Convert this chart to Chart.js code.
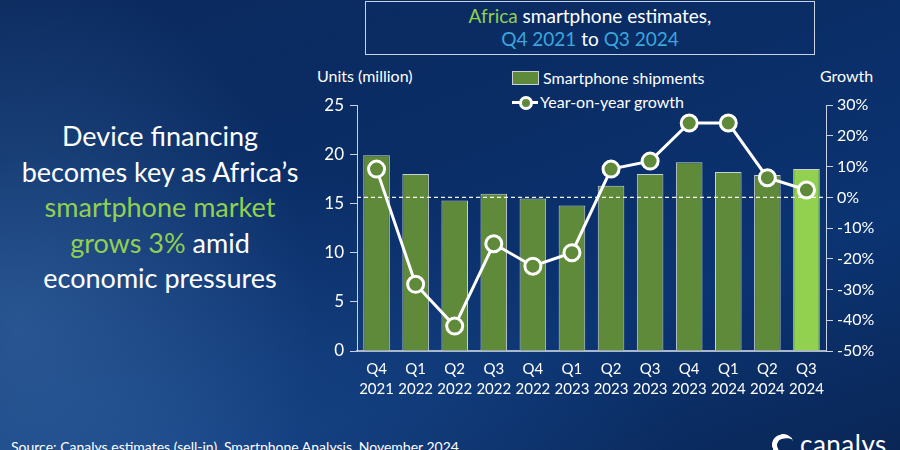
<!DOCTYPE html>
<html>
<head>
<meta charset="utf-8">
<script src="https://cdn.jsdelivr.net/npm/chart.js@4"></script>
<style>
  html, body { margin: 0; padding: 0; }
  body {
    width: 900px; height: 450px; overflow: hidden; position: relative;
    font-family: Lato, "Open Sans", sans-serif; color: #fff;
    background:
      radial-gradient(ellipse 420px 520px at 20px 330px, rgba(60,110,170,0.55), rgba(60,110,170,0) 70%),
      radial-gradient(ellipse 700px 400px at 150px 450px, rgba(40,90,160,0.45), rgba(40,90,160,0) 75%),
      linear-gradient(160deg, #0b2a5e 0%, #0a2d66 40%, #0b3472 70%, #0a2656 100%);
  }
  .title-box {
    position: absolute; left: 365px; top: 1px; width: 450px; height: 54px;
    border: 1.5px solid #c9d3e3; box-sizing: border-box;
    text-align: center; font-size: 19px; line-height: 23px; padding-top: 2px;
  }
  .g { color: #92d050; }
  .b { color: #3ea6dd; }
  .headline {
    position: absolute; left: 0; top: 118px; width: 320px; text-align: center;
    font-size: 27px; line-height: 35.5px;
  }
  .axis-title { position: absolute; top: 66px; font-size: 16px; }
  .legend { position: absolute; left: 512px; top: 66px; font-size: 16px; line-height: 24px; }
  .legend div { display: flex; align-items: center; }
  .sw-bar { width: 25px; height: 12px; background: #5f8a3a; border: 1px solid #c8d0d8; margin-right: 4px; }
  .sw-line { width: 26px; height: 16px; margin-right: 2px; position: relative; }
  .sw-line:before { content: ""; position: absolute; left: 0; right: 0; top: 7px; height: 3px; background: #fff; }
  .sw-line:after { content: ""; position: absolute; left: 7px; top: 2px; width: 8px; height: 8px; border-radius: 50%; background: #5f8a3a; border: 3px solid #fff; }
  .source { position: absolute; left: 11px; top: 438px; font-size: 14px; }
  .logo { position: absolute; left: 800px; top: 428px; font-size: 26px; letter-spacing: 0.5px; }
  .logo-icon { position: absolute; left: 772px; top: 434px; width: 22px; height: 22px; border-radius: 50%;
    border-top: 5px solid #fff; border-left: 5px solid #fff; box-sizing: border-box; transform: rotate(-20deg); }
  #wrap { position: absolute; left: 300px; top: 89px; width: 600px; height: 318px; }
</style>
</head>
<body>
<div class="title-box">
  <span class="g">Africa</span> smartphone estimates,<br>
  <span class="b">Q4 2021</span> to <span class="b">Q3 2024</span>
</div>
<div class="headline">
  Device financing<br>becomes key as Africa’s<br><span class="g">smartphone market</span><br><span class="g">grows 3%</span> amid<br>economic pressures
</div>
<div class="axis-title" style="left:317px">Units (million)</div>
<div class="axis-title" style="left:820px">Growth</div>
<div class="legend">
  <div><span class="sw-bar"></span>Smartphone shipments</div>
  <div><span class="sw-line"></span>Year-on-year growth</div>
</div>
<div id="wrap"><canvas id="chart"></canvas></div>
<div class="source">Source: Canalys estimates (sell-in), Smartphone Analysis, November 2024</div>
<div class="logo-icon"></div>
<div class="logo">canalys</div>

<script>
const QUARTERS = [
  ["Q4", "2021"], ["Q1", "2022"], ["Q2", "2022"], ["Q3", "2022"],
  ["Q4", "2022"], ["Q1", "2023"], ["Q2", "2023"], ["Q3", "2023"],
  ["Q4", "2023"], ["Q1", "2024"], ["Q2", "2024"], ["Q3", "2024"]
];
const SHIPMENTS = [19.9, 18.0, 15.3, 16.0, 15.5, 14.8, 16.8, 18.0, 19.2, 18.2, 17.9, 18.5];
const GROWTH = [9.2, -28.3, -41.9, -15.1, -22.4, -18.0, 9.2, 11.8, 24.2, 24.2, 6.4, 2.4];

const BAR = "#5f8a3a";
const BAR_LATEST = "#92d050";
const barColors = SHIPMENTS.map((v, i) => (i === SHIPMENTS.length - 1 ? BAR_LATEST : BAR));

// dashed 0% reference line on the growth axis, drawn over the bars
const zeroLine = {
  id: "zeroLine",
  afterDatasetsDraw(chart) {
    const { ctx, chartArea } = chart;
    const y = chart.scales.y1.getPixelForValue(0);
    ctx.save();
    ctx.strokeStyle = "rgba(255,255,255,0.95)";
    ctx.lineWidth = 1.2;
    ctx.setLineDash([4, 3]);
    ctx.beginPath();
    ctx.moveTo(chartArea.left, y);
    ctx.lineTo(chartArea.right, y);
    ctx.stroke();
    ctx.restore();
  }
};

const FONT = "Lato, 'Open Sans', sans-serif";

const chart = new Chart(document.getElementById("chart"), {
  data: {
    labels: QUARTERS,
    datasets: [
      {
        type: "line",
        label: "Year-on-year growth",
        data: GROWTH,
        yAxisID: "y1",
        borderColor: "#ffffff",
        borderWidth: 3,
        pointRadius: 8,
        pointBorderWidth: 3,
        pointBackgroundColor: BAR,
        pointBorderColor: "#ffffff",
        tension: 0,
        order: 0
      },
      {
        type: "bar",
        label: "Smartphone shipments",
        data: SHIPMENTS,
        yAxisID: "y",
        backgroundColor: barColors,
        borderColor: "#c8d0d8",
        borderWidth: 1,
        categoryPercentage: 1,
        barPercentage: 0.68,
        order: 1
      }
    ]
  },
  options: {
    responsive: true,
    maintainAspectRatio: false,
    animation: false,
    layout: { padding: { top: 9, left: 0, right: 0, bottom: 0 } },
    plugins: { legend: { display: false }, tooltip: { enabled: false } },
    scales: {
      x: {
        grid: { display: false, drawTicks: false },
        border: { color: "#a9b8cc", width: 2 },
        ticks: { color: "#ffffff", font: { family: FONT, size: 15, lineHeight: 1.35 }, padding: 8, maxRotation: 0, autoSkip: false },
        afterFit(s) { s.height = 56; }
      },
      y: {
        position: "left",
        min: 0, max: 25,
        grid: { drawOnChartArea: false, color: "#c9d3e3", tickLength: 7 },
        border: { color: "#c9d3e3", width: 1 },
        ticks: { stepSize: 5, color: "#ffffff", font: { family: FONT, size: 17 }, padding: 6 },
        afterFit(s) { s.width = 57; }
      },
      y1: {
        position: "right",
        min: -50, max: 30,
        grid: { drawOnChartArea: false, color: "#c9d3e3", tickLength: 7 },
        border: { color: "#c9d3e3", width: 1 },
        ticks: {
          stepSize: 10, color: "#ffffff",
          font: { family: FONT, size: 16 }, padding: 4,
          callback: (v) => v + "%"
        },
        afterFit(s) { s.width = 74; }
      }
    }
  },
  plugins: [zeroLine]
});
</script>
</body>
</html>
